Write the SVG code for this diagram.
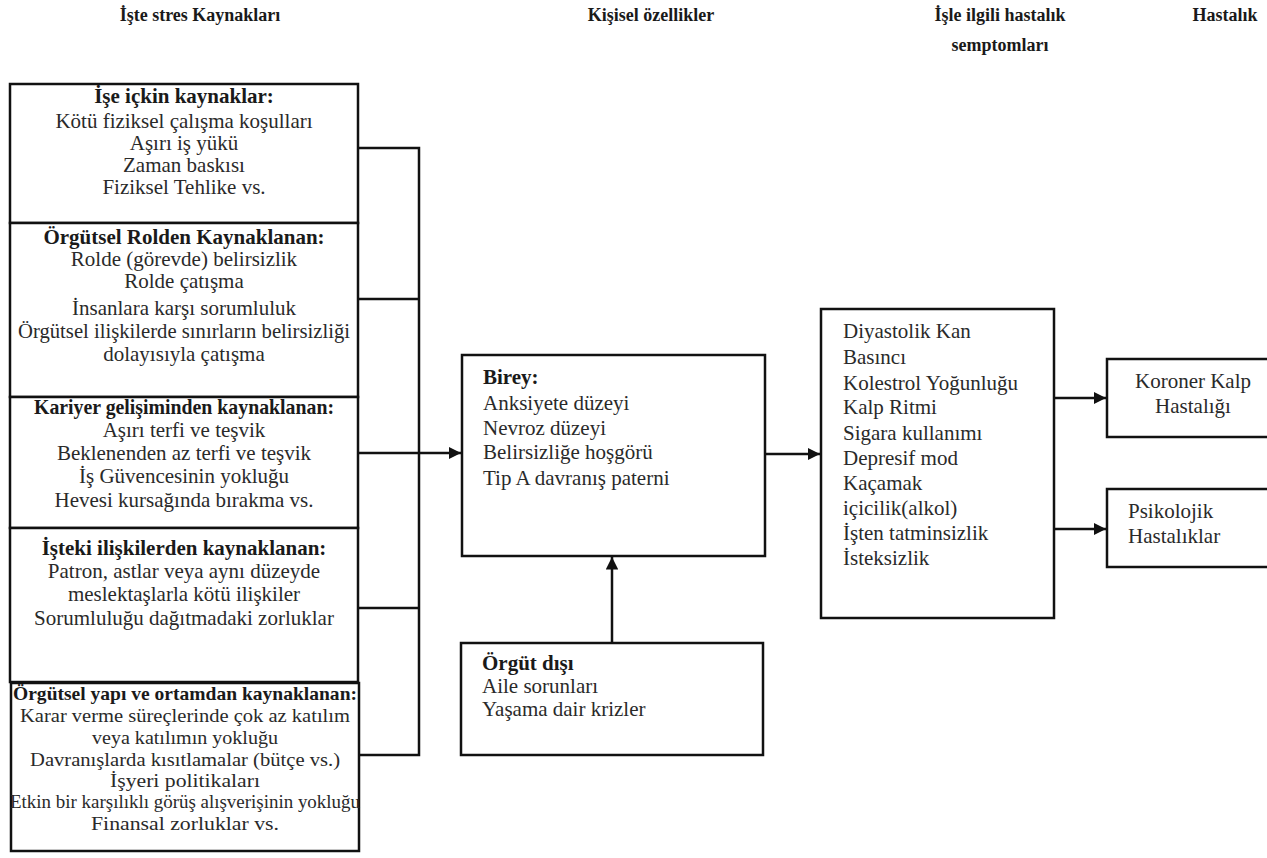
<svg xmlns="http://www.w3.org/2000/svg" width="1267" height="858" viewBox="0 0 1267 858">
<defs>
<style>
text{font-family:"Liberation Serif","DejaVu Serif",serif;font-size:21px;fill:#2a2a2a;}
.h{font-weight:bold;font-size:18px;fill:#1a1a1a;}
.b{font-weight:bold;fill:#1a1a1a;}
.c{text-anchor:middle;}
.s{font-size:19px;}
.box{fill:#fff;stroke:#111;stroke-width:2.5;}
.ln{fill:none;stroke:#111;stroke-width:2.5;}
</style>
<marker id="ah" viewBox="0 0 10 10" refX="10" refY="5" markerWidth="5" markerHeight="5" orient="auto" markerUnits="strokeWidth">
<path d="M0,0 L10,5 L0,10 z" fill="#111"/>
</marker>
</defs>
<rect width="1267" height="858" fill="#fff"/>
<g id="headers">
<text class="h c" x="200" y="21">İşte stres Kaynakları</text>
<text class="h c" x="651" y="21">Kişisel özellikler</text>
<text class="h c" x="1000" y="21">İşle ilgili hastalık</text>
<text class="h c" x="1000" y="51">semptomları</text>
<text class="h c" x="1225" y="21">Hastalık</text>
</g>
<g id="connectors">
<path class="ln" d="M358,148 H419 V755 H358 M358,299 H419 M358,608 H419"/>
<path class="ln" d="M358,453 H461" marker-end="url(#ah)"/>
<path class="ln" d="M765,454 H820" marker-end="url(#ah)"/>
<path class="ln" d="M612,643 V557" marker-end="url(#ah)"/>
<path class="ln" d="M1054,398 H1106" marker-end="url(#ah)"/>
<path class="ln" d="M1054,529 H1106" marker-end="url(#ah)"/>
</g>
<g id="n1">
<rect class="box" x="10" y="84" width="348" height="139"/>
<text class="b c" x="184" y="103">İşe içkin kaynaklar:</text>
<text class="c" x="184" y="128">Kötü fiziksel çalışma koşulları</text>
<text class="c" x="184" y="150">Aşırı iş yükü</text>
<text class="c" x="184" y="172">Zaman baskısı</text>
<text class="c" x="184" y="194">Fiziksel  Tehlike vs.</text>
</g>
<g id="n2">
<rect class="box" x="10" y="223" width="348" height="174"/>
<text class="b c" x="184" y="244">Örgütsel Rolden Kaynaklanan:</text>
<text class="c" x="184" y="266">Rolde (görevde) belirsizlik</text>
<text class="c" x="184" y="288">Rolde çatışma</text>
<text class="c" x="184" y="315">İnsanlara  karşı sorumluluk</text>
<text class="c" x="184" y="338" textLength="332" lengthAdjust="spacingAndGlyphs">Örgütsel ilişkilerde  sınırların  belirsizliği</text>
<text class="c" x="184" y="361">dolayısıyla  çatışma</text>
</g>
<g id="n3">
<rect class="box" x="10" y="397" width="348" height="131"/>
<text class="b c" x="184" y="414" textLength="300" lengthAdjust="spacingAndGlyphs">Kariyer gelişiminden kaynaklanan:</text>
<text class="c" x="184" y="437">Aşırı terfi ve teşvik</text>
<text class="c" x="184" y="460">Beklenenden az terfi ve teşvik</text>
<text class="c" x="184" y="483">İş Güvencesinin yokluğu</text>
<text class="c" x="184" y="507">Hevesi kursağında bırakma vs.</text>
</g>
<g id="n4">
<rect class="box" x="10" y="528" width="348" height="154"/>
<text class="b c" x="184" y="555">İşteki ilişkilerden kaynaklanan:</text>
<text class="c" x="184" y="578">Patron, astlar veya aynı düzeyde</text>
<text class="c" x="184" y="601">meslektaşlarla kötü ilişkiler</text>
<text class="c" x="184" y="625">Sorumluluğu dağıtmadaki zorluklar</text>
</g>
<g id="n5">
<rect class="box" x="11" y="683" width="348" height="168"/>
<text class="b c s" x="185" y="700" textLength="344" lengthAdjust="spacingAndGlyphs">Örgütsel yapı ve ortamdan kaynaklanan:</text>
<text class="c s" x="185" y="722" textLength="330" lengthAdjust="spacingAndGlyphs">Karar verme süreçlerinde çok az katılım</text>
<text class="c s" x="185" y="744" textLength="186" lengthAdjust="spacingAndGlyphs">veya katılımın yokluğu</text>
<text class="c s" x="185" y="766" textLength="310" lengthAdjust="spacingAndGlyphs">Davranışlarda kısıtlamalar (bütçe vs.)</text>
<text class="c s" x="185" y="787" textLength="150" lengthAdjust="spacingAndGlyphs">İşyeri politikaları</text>
<text class="c s" x="185" y="808" textLength="350" lengthAdjust="spacingAndGlyphs">Etkin bir karşılıklı görüş alışverişinin yokluğu</text>
<text class="c s" x="185" y="830" textLength="188" lengthAdjust="spacingAndGlyphs">Finansal zorluklar vs.</text>
</g>
<g id="birey">
<rect class="box" x="462" y="355" width="303" height="201"/>
<text class="b" x="483" y="384">Birey:</text>
<text x="483" y="410">Anksiyete  düzeyi</text>
<text x="483" y="435">Nevroz düzeyi</text>
<text x="483" y="459">Belirsizliğe  hoşgörü</text>
<text x="483" y="485">Tip A davranış paterni</text>
</g>
<g id="orgut-disi">
<rect class="box" x="461" y="643" width="302" height="112"/>
<text class="b" x="482" y="670">Örgüt dışı</text>
<text x="482" y="693">Aile sorunları</text>
<text x="482" y="716">Yaşama dair krizler</text>
</g>
<g id="semptom">
<rect class="box" x="821" y="309" width="233" height="309"/>
<text x="843" y="338">Diyastolik Kan</text>
<text x="843" y="364">Basıncı</text>
<text x="843" y="390">Kolestrol Yoğunluğu</text>
<text x="843" y="414">Kalp Ritmi</text>
<text x="843" y="440">Sigara kullanımı</text>
<text x="843" y="465">Depresif mod</text>
<text x="843" y="490">Kaçamak</text>
<text x="843" y="515">içicilik(alkol)</text>
<text x="843" y="540">İşten  tatminsizlik</text>
<text x="843" y="565">İsteksizlik</text>
</g>
<g id="koroner">
<rect class="box" x="1107" y="359" width="170" height="78"/>
<text class="c" x="1193" y="388">Koroner Kalp</text>
<text class="c" x="1193" y="413">Hastalığı</text>
</g>
<g id="psikolojik">
<rect class="box" x="1107" y="489" width="170" height="78"/>
<text x="1128" y="518">Psikolojik</text>
<text x="1128" y="543">Hastalıklar</text>
</g>
</svg>
